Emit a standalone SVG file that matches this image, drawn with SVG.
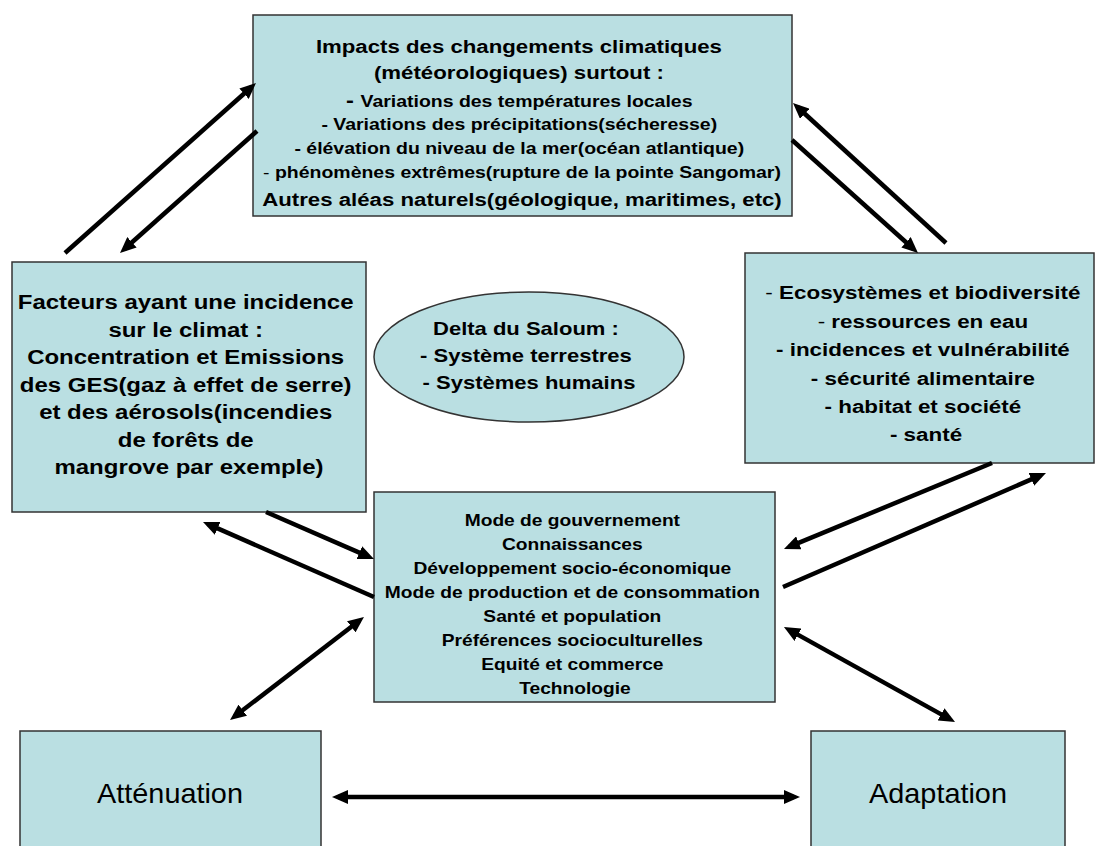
<svg xmlns="http://www.w3.org/2000/svg" width="1097" height="846" viewBox="0 0 1097 846">
<defs>
<marker id="ah" viewBox="0 0 16 14" refX="10" refY="7" markerWidth="16" markerHeight="14" markerUnits="userSpaceOnUse" orient="auto-start-reverse">
<path d="M0,0 L16,7 L0,14 z" fill="#000"/>
</marker>
<style>
.box{fill:#BADFE2;stroke:#333;stroke-width:1.5}
.t{font-family:"Liberation Sans",Arial,sans-serif;font-weight:bold;fill:#000;text-anchor:middle}
.n{font-weight:normal}
.big{font-family:"Liberation Sans",Arial,sans-serif;font-size:28px;fill:#000;text-anchor:middle}
.c line{stroke:#000;stroke-width:4.5;fill:none}
</style>
</defs>
<rect width="1097" height="846" fill="#fff"/>
<g id="impacts">
<rect class="box" x="253" y="15" width="539" height="201"/>
<text class="t" font-size="19" transform="translate(522 0) scale(1.17 1)">
<tspan x="0" y="53">Impacts des changements climatiques</tspan>
<tspan x="0" y="79">(météorologiques) surtout :</tspan>
<tspan x="0" y="206">Autres aléas naturels(géologique, maritimes, etc)</tspan>
</text>
<text class="t" font-size="16.5" transform="translate(522 0) scale(1.18 1)">
<tspan x="0" y="107"><tspan font-size="20">- </tspan>Variations des températures locales</tspan>
<tspan x="0" y="130">- Variations des précipitations(sécheresse)</tspan>
<tspan x="0" y="154">-  élévation du niveau de la mer(océan atlantique)</tspan>
<tspan x="0" y="178"><tspan class="n">- </tspan>phénomènes extrêmes(rupture de la pointe Sangomar)</tspan>
</text>
</g>
<g id="facteurs">
<rect class="box" x="12" y="262" width="354" height="250"/>
<text class="t" font-size="19.5" transform="translate(189 0) scale(1.23 1)">
<tspan x="0" y="309">Facteurs ayant une incidence</tspan>
<tspan x="0" y="337">sur le climat :</tspan>
<tspan x="0" y="364">Concentration et Emissions</tspan>
<tspan x="0" y="392">des GES(gaz à effet de serre)</tspan>
<tspan x="0" y="419">et des aérosols(incendies</tspan>
<tspan x="0" y="447">de forêts de</tspan>
<tspan x="0" y="474">mangrove par exemple)</tspan>
</text>
</g>
<g id="delta">
<ellipse class="box" cx="529" cy="357" rx="155" ry="65"/>
<text class="t" font-size="18.5" transform="translate(529 0) scale(1.19 1)">
<tspan x="0" y="335">Delta du Saloum :</tspan>
<tspan x="0" y="362">- Système terrestres</tspan>
<tspan x="0" y="389">- Systèmes humains</tspan>
</text>
</g>
<g id="ecosystemes">
<rect class="box" x="745" y="253" width="349" height="210"/>
<text class="t" font-size="19" transform="translate(926 0) scale(1.18 1)">
<tspan x="0" y="299"><tspan class="n">- </tspan>Ecosystèmes et biodiversité</tspan>
<tspan x="0" y="328"><tspan class="n">- </tspan>ressources en eau</tspan>
<tspan x="0" y="356">- incidences et vulnérabilité</tspan>
<tspan x="0" y="385">- sécurité alimentaire</tspan>
<tspan x="0" y="413">- habitat et société</tspan>
<tspan x="0" y="441">- santé</tspan>
</text>
</g>
<g id="facteurs-socio">
<rect class="box" x="374" y="492" width="401" height="210"/>
<text class="t" font-size="16" transform="translate(575 0) scale(1.2 1)">
<tspan x="0" y="526">Mode de gouvernement</tspan>
<tspan x="0" y="550">Connaissances</tspan>
<tspan x="0" y="574">Développement socio-économique</tspan>
<tspan x="0" y="598">Mode de production et de consommation</tspan>
<tspan x="0" y="622">Santé et population</tspan>
<tspan x="0" y="646">Préférences socioculturelles</tspan>
<tspan x="0" y="670">Equité et commerce</tspan>
<tspan x="0" y="694">Technologie</tspan>
</text>
</g>
<g id="attenuation">
<rect class="box" x="20" y="731" width="301" height="130"/>
<text class="big" transform="translate(170 0) scale(1.03 1)" x="0" y="803">Atténuation</text>
</g>
<g id="adaptation">
<rect class="box" x="811" y="731" width="254" height="130"/>
<text class="big" transform="translate(938 0) scale(1.03 1)" x="0" y="803">Adaptation</text>
</g>
<g id="connectors" class="c">
<line x1="65" y1="253" x2="251.5" y2="87" marker-end="url(#ah)"/>
<line x1="257" y1="131" x2="124.5" y2="249" marker-end="url(#ah)"/>
<line x1="946" y1="243" x2="797.4" y2="107" marker-end="url(#ah)"/>
<line x1="792" y1="140" x2="913.5" y2="249" marker-end="url(#ah)"/>
<line x1="266" y1="512" x2="368.5" y2="556.6" marker-end="url(#ah)"/>
<line x1="374" y1="597" x2="208.5" y2="524.4" marker-end="url(#ah)"/>
<line x1="359.2" y1="620.7" x2="234.8" y2="716.3" marker-start="url(#ah)" marker-end="url(#ah)"/>
<line x1="992" y1="463" x2="789.5" y2="546.7" marker-end="url(#ah)"/>
<line x1="783" y1="587" x2="1040.5" y2="475.4" marker-end="url(#ah)"/>
<line x1="789.2" y1="629.9" x2="949.8" y2="719.1" marker-start="url(#ah)" marker-end="url(#ah)"/>
<line x1="338" y1="797" x2="794" y2="797" marker-start="url(#ah)" marker-end="url(#ah)"/>
</g>
</svg>
